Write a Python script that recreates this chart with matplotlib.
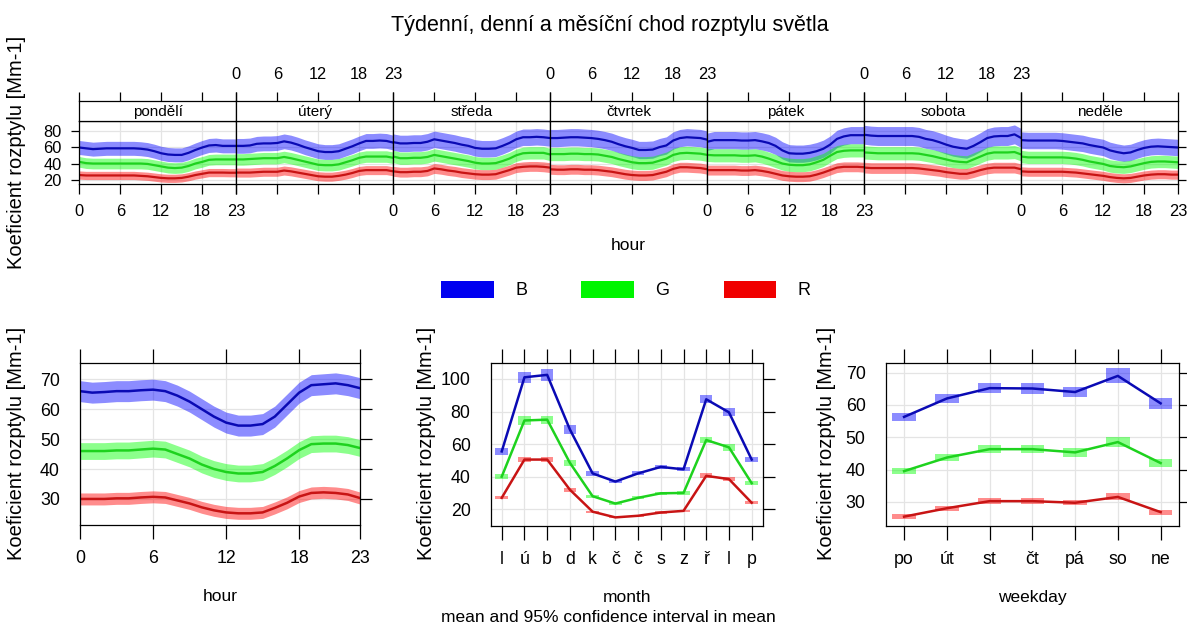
import matplotlib
matplotlib.use('Agg')
import matplotlib.pyplot as plt
from matplotlib.patches import Patch
import numpy as np

plt.rcParams['font.family'] = ['Liberation Sans', 'DejaVu Sans']

W, H = 1187, 627

# ---------------- data ----------------
days = ['pondělí', 'úterý', 'středa', 'čtvrtek', 'pátek', 'sobota', 'neděle']
hours = list(range(24))
hour_ticks = [0, 6, 12, 18, 23]

# hour-of-week means (one list of 24 hours per weekday)
B_week = [
    [59.5, 58.5, 57.5, 58, 58.5, 58.5, 58.5, 58.5, 58.5, 58, 57, 55, 52.5, 51, 50.5, 50.5, 53, 56.5, 59.5, 62, 62.5, 61.5, 61.5, 61.5],
    [61.5, 61.5, 62, 64, 64.5, 64.5, 65, 67, 65.5, 63, 60, 57.5, 55, 54, 54, 55, 58, 61, 64.5, 67.5, 67.5, 68, 67.5, 65.5],
    [66, 64.5, 64.5, 65, 65, 66.5, 69.5, 68, 66.5, 65, 63, 61.5, 59, 58, 58, 58.5, 61.5, 65, 69.5, 72, 72, 72.5, 72, 71],
    [71, 71, 71.5, 72, 72, 71.5, 71, 70, 68.5, 66.5, 63.5, 61, 59, 56.5, 56.5, 57, 60, 62, 68, 71, 72, 71.5, 71, 69],
    [66.5, 68.5, 68.5, 68.5, 68.5, 68, 68, 68.5, 67, 65, 61.5, 56, 52.5, 52, 52, 53, 55, 58, 63, 70, 73, 74.5, 74.5, 74.5],
    [75, 74, 73.5, 73.5, 73.5, 73.5, 73.5, 73.5, 72.5, 70, 68.5, 66, 63, 60.5, 59, 58, 61.5, 66, 71, 73, 73.5, 73.5, 75.5, 71],
    [68.5, 68, 68, 68, 68, 68, 67.5, 66.5, 65.5, 64.5, 62.5, 61, 59.5, 56, 54, 52.5, 53.5, 56.5, 59, 60.5, 61, 60.5, 60, 59.5],
]
G_week = [
    [42, 40.5, 40, 40, 40, 40, 40, 40, 40, 40, 39.5, 38, 36.5, 35, 34.5, 35, 37, 40, 42, 44.5, 45, 45, 45, 45],
    [45, 45, 45.5, 46, 46.5, 46.5, 46.5, 48, 46.5, 44.5, 42.5, 40.5, 38.5, 38, 38, 39, 41.5, 44, 47, 48.5, 48.5, 48.5, 48.5, 47],
    [48.5, 46.5, 46.5, 47, 47, 48, 50.5, 49, 47.5, 46, 44.5, 43, 41, 40, 40, 40.5, 43, 46, 50, 52.5, 53, 53, 53, 51],
    [51.5, 51.5, 51.5, 52, 52, 51.5, 51.5, 51, 49.5, 48, 45.5, 43.5, 41.5, 40.5, 40.5, 41, 43.5, 46, 50.5, 52.5, 53, 52.5, 52, 50.5],
    [50.5, 50, 50, 50, 50, 49.5, 49.5, 50, 48.5, 46, 43, 40, 38.5, 38, 38, 39, 41.5, 44.5, 49.5, 54, 55.5, 56, 56, 56],
    [53.5, 53, 52.5, 52.5, 52.5, 52.5, 52.5, 52.5, 52, 50.5, 49, 47, 45, 43, 42, 41.5, 45, 48.5, 52, 53.5, 53.5, 53.5, 54, 51],
    [48.5, 47.5, 47.5, 47.5, 47.5, 47.5, 47.5, 47, 46, 44.5, 42.5, 41, 39.5, 37, 36, 35.5, 36.5, 38.5, 40.5, 42, 42.5, 42.5, 42, 41.5],
]
R_week = [
    [26, 25.5, 25.5, 25.5, 25.5, 25.5, 25.5, 25.5, 25.5, 25, 24.5, 23.5, 22.5, 22, 22, 22.5, 24, 26, 27.5, 29, 29, 29, 28.8, 28.8],
    [29, 29, 29, 29.5, 30, 30, 30, 31.5, 30.5, 29, 27.5, 26, 24.5, 24, 24, 25, 26.5, 28.5, 31, 32, 32, 32, 32, 30.5],
    [30.5, 29.5, 29.5, 30, 30, 31, 34, 33, 31.5, 30.5, 29, 28, 27, 26.5, 26.5, 27, 29.5, 32, 35, 36, 36.5, 36.5, 36, 35],
    [33, 32.5, 32.5, 33, 33, 32.5, 32.5, 32, 31, 30, 28.5, 27, 26, 25.5, 25.5, 26, 28, 30, 33.5, 35.5, 35.5, 35, 34.5, 33],
    [32, 32, 32, 32, 32, 31.5, 31.5, 32, 31, 29.5, 27.5, 25.5, 24.5, 24, 24, 24.5, 26.5, 29, 32, 35, 36, 36, 36, 35.5],
    [35, 34.5, 34.5, 34.5, 34.5, 34.5, 34.5, 34.5, 34, 33, 32, 31, 29.5, 28.5, 27.5, 27.5, 29.5, 32, 34, 35, 35, 35, 35, 33],
    [30.5, 30, 30, 30, 30, 30, 30, 29.5, 29, 28, 27, 26, 25, 23.5, 22.5, 22, 22.5, 24, 25.5, 26.5, 27, 27, 26.5, 26.5],
]
# 95% CI half-widths per weekday (hour-of-week panel)
B_week_ci = [8.5, 9.0, 10.0, 10.5, 10.5, 11.5, 10.0]
G_week_ci = [6.5, 7.0, 7.5, 8.0, 8.0, 8.0, 7.5]
R_week_ci = [5.0, 5.5, 6.0, 6.0, 6.0, 6.5, 5.5]

# diurnal means
B_hour = [66, 65.5, 65.7, 66, 66, 66.3, 66.5, 66, 64.5, 62.5, 60, 57.5, 55.5, 54.5, 54.5, 55, 57.5, 61.5, 65.5, 68, 68.3, 68.6, 68, 67]
G_hour = [46, 46, 46, 46.2, 46.2, 46.5, 46.8, 46.5, 45, 43.5, 41.5, 40, 39, 38.5, 38.5, 39, 41, 43.5, 46.3, 48.3, 48.5, 48.5, 48, 47]
R_hour = [30, 30, 30, 30.2, 30.2, 30.5, 30.7, 30.5, 29.5, 28.5, 27.2, 26.2, 25.5, 25.2, 25.2, 25.5, 27, 28.7, 30.8, 32, 32.2, 32, 31.5, 30.3]
B_hour_ci = 3.5
G_hour_ci = 2.8
R_hour_ci = 2.0

# monthly means
months = ['l', 'ú', 'b', 'd', 'k', 'č', 'č', 's', 'z', 'ř', 'l', 'p']
B_month = [55.5, 101, 102.5, 69, 42, 37, 42, 46, 44.5, 87.5, 79.5, 50.5]
G_month = [40, 74.5, 75, 48.5, 28, 23.5, 27, 29.8, 30, 62.5, 58, 36]
R_month = [27, 50.5, 50.5, 32, 18.5, 15, 16, 18, 19, 40.5, 38.5, 24]
B_month_ci = [2, 3.5, 3.5, 2.5, 1.5, 1, 1.2, 1.3, 1.2, 2.5, 2.5, 1.5]
G_month_ci = [1.5, 2.5, 2.5, 2, 1, 0.8, 0.9, 1, 1, 2, 2, 1.2]
R_month_ci = [1, 1.8, 1.8, 1.2, 0.7, 0.5, 0.6, 0.7, 0.7, 1.5, 1.4, 0.9]

# weekday means
weekdays = ['po', 'út', 'st', 'čt', 'pá', 'so', 'ne']
B_wday = [56.3, 62, 65.2, 65.1, 64, 69, 60.5]
G_wday = [39.5, 43.7, 46.3, 46.3, 45.3, 48.5, 42]
R_wday = [25.4, 28, 30.2, 30.2, 29.7, 31.5, 26.8]
B_wday_ci = [1.3, 1.5, 1.6, 1.6, 1.6, 2.3, 1.8]
G_wday_ci = [1.0, 1.2, 1.3, 1.3, 1.3, 1.6, 1.3]
R_wday_ci = [0.7, 0.8, 0.9, 0.9, 0.8, 1.1, 0.8]

names = ['B', 'G', 'R']

# ---------------- style ----------------
line_cols = ['#0a0ab4', '#1ed21e', '#c81414']
fill_cols = ['#0000ff', '#00ff00', '#ff0000']
legend_cols = ['#0000f0', '#00f500', '#f00000']
ALPHA = 0.45
GRID = '#e4e4e4'
YLAB = 'Koeficient rozptylu [Mm-1]'

fig = plt.figure(figsize=(W / 100, H / 100), dpi=100)


def ax_px(x0, y0, x1, y1):
    return fig.add_axes([x0 / W, 1 - y1 / H, (x1 - x0) / W, (y1 - y0) / H])


def style_spines(ax):
    for s in ax.spines.values():
        s.set_linewidth(0.9)
        s.set_color('black')


# ---------------- top: hour of week ----------------
px0, pw = 79.3, 157.0
for i, day in enumerate(days):
    x0 = px0 + i * pw
    ax = ax_px(x0, 121.3, x0 + pw, 184.0)
    ax.set_xlim(0, 23)
    ax.set_ylim(15.1, 91.4)
    ax.set_axisbelow(True)
    ax.grid(True, color=GRID, lw=0.9)
    series = [(B_week[i], B_week_ci[i]), (G_week[i], G_week_ci[i]), (R_week[i], R_week_ci[i])]
    for k, (vals, ci) in enumerate(series):
        v = np.array(vals)
        ax.fill_between(hours, v - ci, v + ci, color=fill_cols[k], alpha=ALPHA, lw=0)
    for k, (vals, ci) in enumerate(series):
        ax.plot(hours, vals, color=line_cols[k], lw=1.6)
    ax.set_xticks(hour_ticks)
    ax.set_yticks([20, 40, 60, 80])
    ax.tick_params(axis='x', direction='out', length=7.5, width=0.9, pad=7,
                   labelsize=11.8, bottom=True, top=False, labelbottom=(i % 2 == 0))
    ax.tick_params(axis='y', direction='out', length=5.5, width=0.9, pad=7,
                   labelsize=11.8, left=(i == 0), right=(i == 6),
                   labelleft=(i == 0), labelright=False)
    style_spines(ax)

    sx = ax_px(x0, 100.7, x0 + pw, 121.3)
    sx.set_xlim(0, 23)
    sx.set_ylim(0, 1)
    sx.set_xticks(hour_ticks)
    sx.set_yticks([])
    sx.tick_params(axis='x', direction='out', length=6.5, width=0.9, pad=7,
                   labelsize=11.8, bottom=False, top=True,
                   labelbottom=False, labeltop=(i % 2 == 1))
    sx.text(0.5, 0.45, day, transform=sx.transAxes, ha='center', va='center', fontsize=11)
    style_spines(sx)

fig.text(17 / W, 1 - 152 / H, YLAB, rotation=90, ha='center', va='center', fontsize=14.5)
fig.text(628 / W, 1 - 245 / H, 'hour', ha='center', va='center', fontsize=12.5)
fig.text(610 / W, 1 - 25 / H, 'Týdenní, denní a měsíční chod rozptylu světla',
         ha='center', va='center', fontsize=15.5)

# legend
handles = [Patch(facecolor=legend_cols[k], edgecolor='none', label=names[k]) for k in range(3)]
fig.legend(handles=handles, loc='center', bbox_to_anchor=(626 / W, 1 - 290 / H), ncol=3,
           frameon=False, fontsize=13, handlelength=2.9, handleheight=1.1,
           handletextpad=1.2, columnspacing=3.0, borderpad=0)


def bottom_style(ax):
    ax.set_axisbelow(True)
    ax.grid(True, color=GRID, lw=0.9)
    ax.tick_params(axis='x', direction='out', length=10, width=0.9, pad=8,
                   labelsize=12.8, bottom=True, top=True, labelbottom=True, labeltop=False)
    ax.tick_params(axis='y', direction='out', length=8.5, width=0.9, pad=6,
                   labelsize=12.8, left=False, right=True, labelleft=True, labelright=False)
    style_spines(ax)


# ---------------- bottom-left: hour ----------------
ax1 = ax_px(80, 363.3, 360, 525)
v_list = [(B_hour, B_hour_ci), (G_hour, G_hour_ci), (R_hour, R_hour_ci)]
for k, (vals, ci) in enumerate(v_list):
    v = np.array(vals)
    ax1.fill_between(hours, v - ci, v + ci, color=fill_cols[k], alpha=ALPHA, lw=0)
for k, (vals, ci) in enumerate(v_list):
    ax1.plot(hours, vals, color=line_cols[k], lw=1.8)
ax1.set_xlim(0, 23)
ax1.set_ylim(21.3, 75.3)
ax1.set_xticks(hour_ticks)
ax1.set_yticks([30, 40, 50, 60, 70])
bottom_style(ax1)
ax1.set_xlabel('hour', fontsize=12.5, labelpad=16)
fig.text(17 / W, 1 - 443 / H, YLAB, rotation=90, ha='center', va='center', fontsize=14.5)

# ---------------- bottom-middle: month ----------------
ax2 = ax_px(490.7, 363.3, 762.7, 525.7)
mx = np.arange(1, 13)
m_list = [(B_month, B_month_ci), (G_month, G_month_ci), (R_month, R_month_ci)]
for k, (vals, ci) in enumerate(m_list):
    v = np.array(vals)
    c = np.array(ci)
    ax2.bar(mx, 2 * c, bottom=v - c, width=0.55, color=fill_cols[k], alpha=ALPHA, lw=0)
for k, (vals, ci) in enumerate(m_list):
    ax2.plot(mx, vals, color=line_cols[k], lw=1.8)
ax2.set_xlim(0.515, 12.485)
ax2.set_ylim(9.9, 109.6)
ax2.set_xticks(mx)
ax2.set_xticklabels(months)
ax2.set_yticks([20, 40, 60, 80, 100])
bottom_style(ax2)
ax2.set_xlabel('month', fontsize=12.5, labelpad=16)
fig.text(426 / W, 1 - 443 / H, YLAB, rotation=90, ha='center', va='center', fontsize=14.5)

# ---------------- bottom-right: weekday ----------------
ax3 = ax_px(885.7, 363.3, 1179, 526)
wx = np.arange(1, 8)
w_list = [(B_wday, B_wday_ci), (G_wday, G_wday_ci), (R_wday, R_wday_ci)]
for k, (vals, ci) in enumerate(w_list):
    v = np.array(vals)
    c = np.array(ci)
    ax3.bar(wx, 2 * c, bottom=v - c, width=0.55, color=fill_cols[k], alpha=ALPHA, lw=0)
for k, (vals, ci) in enumerate(w_list):
    ax3.plot(wx, vals, color=line_cols[k], lw=1.8)
ax3.set_xlim(0.57, 7.43)
ax3.set_ylim(22.5, 72.9)
ax3.set_xticks(wx)
ax3.set_xticklabels(weekdays)
ax3.set_yticks([30, 40, 50, 60, 70])
bottom_style(ax3)
ax3.set_xlabel('weekday', fontsize=12.5, labelpad=16)
fig.text(826 / W, 1 - 443 / H, YLAB, rotation=90, ha='center', va='center', fontsize=14.5)

fig.text(608 / W, 1 - 617 / H, 'mean and 95% confidence interval in mean',
         ha='center', va='center', fontsize=12.5)

fig.savefig('out.png', dpi=100)
